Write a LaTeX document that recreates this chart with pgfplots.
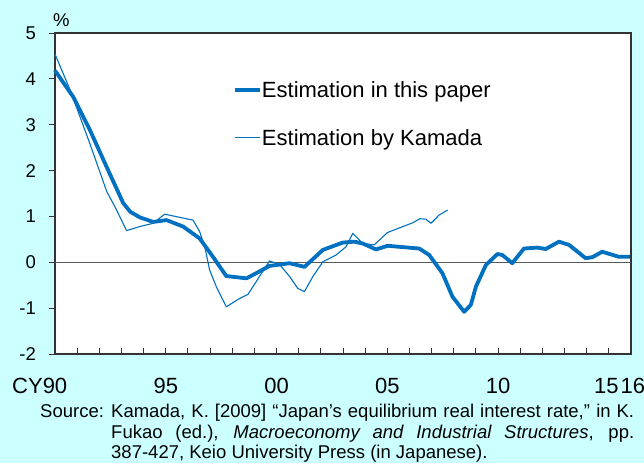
\documentclass[border=0pt]{standalone}
\usepackage{pgfplots}
\pgfplotsset{compat=1.18}
\usepackage{fontspec}
\setmainfont{Liberation Sans}
\definecolor{bgc}{RGB}{204,255,255}
\definecolor{lc}{RGB}{0,112,192}
\begin{document}
\begin{tikzpicture}
\fill[bgc] (0pt,0pt) rectangle (644pt,463pt);
\useasboundingbox (0pt,0pt) rectangle (644pt,463pt);
\begin{axis}[
  at={(55pt,109pt)}, anchor=south west,
  scale only axis, width=576pt, height=321pt,
  xmin=1990, xmax=2016, ymin=-2, ymax=5,
  axis background/.style={fill=white},
  axis line style={draw=black!80, line width=1.1pt},
  tick pos=left,
  xtick align=inside, ytick align=outside,
  major tick length=6pt,
  tick style={draw=black!80, line width=0.9pt},
  xtick={1990,...,2016},
  xticklabels={\llap{CY}90,,,,,95,,,,,00,,,,,05,,,,,10,,,,,\makebox[0pt]{15\kern5pt},\makebox[0pt]{\kern4pt 16}},
  xticklabel style={anchor=base, inner sep=0pt, yshift=-39pt, font=\fontsize{22}{26}\selectfont},
  ytick={-2,...,5},
  yticklabels={-2,-1,0,1,2,3,4,5},
  yticklabel style={anchor=east, inner sep=0pt, xshift=-13pt, font=\fontsize{18.5}{22}\selectfont},
  clip=false,
  legend style={at={(0.309,0.849)}, anchor=north west, draw=none, fill=none,
    font=\fontsize{22}{26}\selectfont, row sep=30pt, inner sep=0pt, nodes={inner sep=0pt}},
  legend cell align=left,
  legend image code/.code={\draw[#1] (0pt,0pt) -- (25pt,0pt);},
]
\draw[black!65, line width=1.4pt] (rel axis cs:0,0.2857) -- (rel axis cs:1,0.2857);
\addplot[lc, line width=3.8pt, line join=round] coordinates {
(1990.00,4.18) (1990.82,3.61) (1991.58,2.88) (1992.33,2.08) (1993.08,1.29)
(1993.40,1.10) (1993.83,0.98) (1994.43,0.88) (1995.03,0.92) (1995.78,0.78)
(1996.53,0.52) (1997.13,0.12) (1997.73,-0.30) (1998.64,-0.35) (1999.23,-0.20)
(1999.68,-0.08) (2000.59,-0.02) (2001.26,-0.10) (2002.09,0.27) (2002.99,0.43)
(2003.51,0.45) (2003.89,0.41) (2004.49,0.28) (2005.01,0.36) (2006.44,0.30)
(2006.89,0.16) (2007.49,-0.24) (2007.94,-0.75) (2008.47,-1.08) (2008.77,-0.93)
(2009.00,-0.53) (2009.45,-0.06) (2009.97,0.18) (2010.19,0.16) (2010.64,-0.02)
(2011.17,0.30) (2011.77,0.32) (2012.15,0.29) (2012.75,0.45) (2013.20,0.38)
(2013.95,0.09) (2014.25,0.11) (2014.70,0.23) (2015.45,0.12) (2015.95,0.12)
};
\addlegendentry{Estimation in this paper}
\addplot[lc, line width=1.1pt, line join=round] coordinates {
(1990.00,4.54) (1990.68,3.76) (1991.58,2.58) (1992.33,1.55) (1992.78,1.14)
(1993.23,0.69) (1993.83,0.78) (1994.43,0.85) (1994.95,1.05) (1995.63,0.98)
(1996.23,0.92) (1996.53,0.67) (1996.76,0.34) (1996.98,-0.17) (1997.28,-0.53)
(1997.73,-0.97) (1998.33,-0.79) (1998.71,-0.70) (1999.23,-0.31) (1999.68,0.03)
(2000.14,-0.05) (2000.59,-0.31) (2000.96,-0.57) (2001.26,-0.64) (2001.64,-0.31)
(2002.09,0.01) (2002.69,0.16) (2003.14,0.34) (2003.44,0.63) (2003.89,0.41)
(2004.41,0.38) (2005.01,0.65) (2006.14,0.86) (2006.47,0.95) (2006.74,0.94)
(2006.97,0.85) (2007.34,1.03) (2007.72,1.14)
};
\addlegendentry{Estimation by Kamada}
\end{axis}
\node[anchor=west, inner sep=0pt, font=\fontsize{18.5}{22}\selectfont] at (53pt,442.5pt) {\%};
\node[anchor=base west, inner sep=0pt, font=\fontsize{18.5}{20.5}\selectfont] at (40pt,45.3pt) {Source:};
\node[anchor=north west, inner sep=0pt, text width=523pt, align=justify, font=\fontsize{18.5}{20.5}\selectfont] at (111pt,59pt)
{Kamada, K. [2009] “Japan's equilibrium real interest rate,” in K.\linebreak
Fukao (ed.), \textit{Macroeconomy and Industrial Structures}, pp.\linebreak
387-427, Keio University Press (in Japanese).};
\end{tikzpicture}
\end{document}
